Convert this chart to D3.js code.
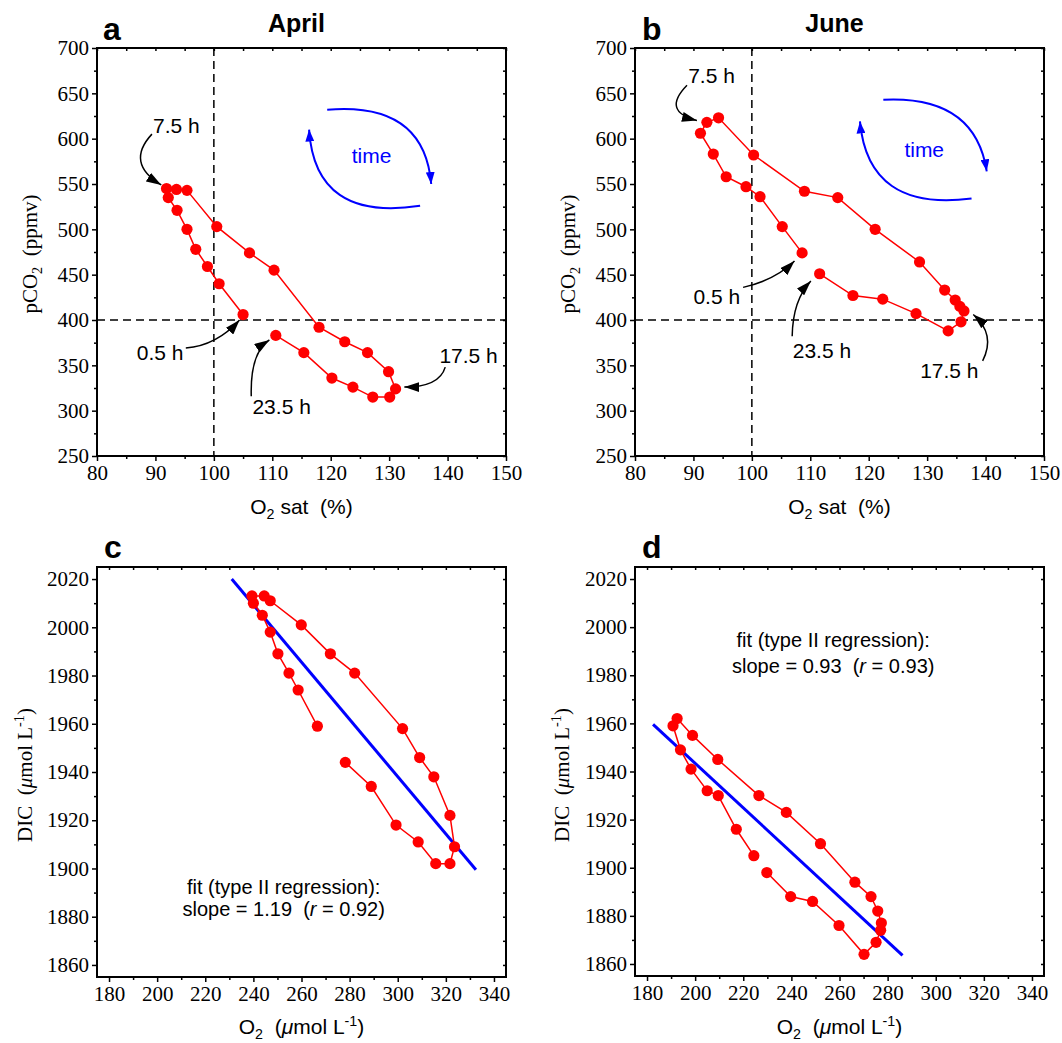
<!DOCTYPE html>
<html>
<head>
<meta charset="utf-8">
<script src="https://cdn.jsdelivr.net/npm/d3@7"></script>
<style>
  body { margin: 0; background: #fff; }
  text { white-space: pre; }
</style>
</head>
<body>
<div id="chart"></div>
<script>
// hourly samples, 0.5 h ... 23.5 h
const aprilO2sat = [105.0, 100.9, 98.9, 96.9, 95.4, 93.7, 92.2, 91.9, 93.6, 95.4, 100.5, 106.1,
                    110.3, 118.0, 122.4, 126.3, 129.9, 131.1, 130.1, 127.2, 123.8, 120.2, 115.4, 110.6];
const aprilPCO2  = [406, 440, 459, 478, 500, 521, 535, 545, 544, 543, 503, 474,
                    455, 392, 376, 364, 343, 324, 315, 315, 326, 336, 364, 383];

const juneO2sat = [108.6, 105.2, 101.4, 99.0, 95.6, 93.4, 91.2, 92.3, 94.3, 100.3, 109.0, 114.7,
                   121.1, 128.7, 133.0, 134.8, 135.6, 136.3, 135.8, 133.6, 128.1, 122.4, 117.3, 111.6];
const junePCO2  = [474, 503, 536, 547, 558, 583, 606, 618, 623, 582, 542, 535,
                   500, 464, 433, 422, 415, 410, 398, 388, 407, 423, 427, 451];

const aprilO2  = [266.6, 258.6, 254.8, 250.2, 247.0, 243.7, 240.0, 239.4, 244.5, 247.0, 259.9, 272.0,
                  282.1, 302.0, 309.1, 315.0, 321.7, 323.6, 321.7, 315.8, 308.5, 299.3, 289.0, 278.2];
const aprilDIC = [1959, 1974, 1981, 1989, 1998, 2005, 2010, 2013, 2013, 2011, 2001, 1989,
                  1981, 1958, 1946, 1938, 1922, 1909, 1902, 1902, 1911, 1918, 1934, 1944];

const juneO2  = [224.4, 217.1, 209.6, 205.0, 198.3, 193.9, 190.8, 192.5, 198.9, 209.4, 226.5, 237.9,
                 252.1, 266.4, 273.1, 275.9, 277.4, 277.1, 275.2, 270.2, 259.8, 248.8, 239.7, 229.8];
const juneDIC = [1905, 1916, 1930, 1932, 1941, 1949, 1959, 1962, 1955, 1945, 1930, 1923,
                 1910, 1894, 1888, 1882, 1877, 1874, 1869, 1864, 1876, 1886, 1888, 1898];

// type II regression lines (end points)
const aprilFitO2 = [231.0, 332.5], aprilFitDIC = [2020, 1899.5];
const juneFitO2 = [182.5, 286.2], juneFitDIC = [1959.6, 1863.6];

// tick labels
const satTicks = [80, 90, 100, 110, 120, 130, 140, 150];
const satMinor = [85, 95, 105, 115, 125, 135, 145];
const pco2Ticks = [250, 300, 350, 400, 450, 500, 550, 600, 650, 700];
const pco2Minor = [275, 325, 375, 425, 475, 525, 575, 625, 675];
const o2Ticks = [180, 200, 220, 240, 260, 280, 300, 320, 340];
const o2Minor = [190, 210, 230, 250, 270, 290, 310, 330];
const dicTicks = [1860, 1880, 1900, 1920, 1940, 1960, 1980, 2000, 2020];
const dicMinor = [1870, 1890, 1910, 1930, 1950, 1970, 1990, 2010];

const SANS = "'Liberation Sans', Arial, Helvetica, sans-serif";
const SERIF = "'Liberation Serif', 'Times New Roman', serif";

const svg = d3.select("#chart").append("svg")
    .attr("width", 1062)
    .attr("height", 1043)
    .style("font-family", SANS);

const defs = svg.append("defs");
function marker(id, color, w, h) {
    defs.append("marker")
        .attr("id", id)
        .attr("viewBox", `0 0 ${w} ${h}`)
        .attr("markerWidth", w)
        .attr("markerHeight", h)
        .attr("markerUnits", "userSpaceOnUse")
        .attr("refX", w)
        .attr("refY", h / 2)
        .attr("orient", "auto")
      .append("path")
        .attr("d", `M0,0L${w},${h / 2}L0,${h}Z`)
        .attr("fill", color);
}
marker("headK", "#000", 15, 10);
marker("headB", "#0000ff", 12, 9);

// text made of pieces: {t, sub, sup, it}
function richText(sel, parts) {
    let shift = 0;
    parts.forEach(p => {
        const ts = sel.append("tspan").text(p.t);
        let want = p.sub ? 5 : p.sup ? -8 : 0;
        if (want !== shift) ts.attr("dy", want - shift);
        shift = want;
        if (p.sub || p.sup) ts.attr("font-size", "0.68em");
        if (p.it) ts.attr("font-style", "italic");
    });
    return sel;
}

function drawPanel(p) {
    const [L, T, R, B] = p.box;
    const x = d3.scaleLinear().domain(p.xDom).range([L, R]);
    const y = d3.scaleLinear().domain(p.yDom).range([B, T]);
    const g = svg.append("g");

    const styleAxis = a => {
        a.attr("font-family", null).attr("font-size", null);
        a.select(".domain").remove();
        a.selectAll("line").attr("stroke-width", 1.5);
        a.selectAll("text")
            .style("font-family", SERIF)
            .style("font-size", "21px")
            .attr("fill", "#000");
    };

    g.append("g").attr("transform", `translate(0,${B})`)
        .call(d3.axisBottom(x).tickValues(p.xTicks).tickSize(5).tickPadding(4).tickFormat(d3.format("d")))
        .call(styleAxis);
    g.append("g").attr("transform", `translate(0,${B})`)
        .call(d3.axisBottom(x).tickValues(p.xMinor).tickSize(3).tickFormat(""))
        .call(styleAxis);
    g.append("g").attr("transform", `translate(${L},0)`)
        .call(d3.axisLeft(y).tickValues(p.yTicks).tickSize(5).tickPadding(3).tickFormat(d3.format("d")))
        .call(styleAxis);
    g.append("g").attr("transform", `translate(${L},0)`)
        .call(d3.axisLeft(y).tickValues(p.yMinor).tickSize(3).tickFormat(""))
        .call(styleAxis);
    // mirrored small ticks on top and right
    g.append("g").attr("transform", `translate(0,${T})`)
        .call(d3.axisTop(x).tickValues(p.xTicks.concat(p.xMinor)).tickSize(-3).tickFormat(""))
        .call(styleAxis);
    g.append("g").attr("transform", `translate(${R},0)`)
        .call(d3.axisRight(y).tickValues(p.yTicks.concat(p.yMinor)).tickSize(-3).tickFormat(""))
        .call(styleAxis);

    if (p.refX != null) {
        g.append("line")
            .attr("x1", x(p.refX)).attr("x2", x(p.refX))
            .attr("y1", T).attr("y2", B)
            .attr("stroke", "#000").attr("stroke-width", 1.5).attr("stroke-dasharray", "8,5");
        g.append("line")
            .attr("x1", L).attr("x2", R)
            .attr("y1", y(p.refY)).attr("y2", y(p.refY))
            .attr("stroke", "#000").attr("stroke-width", 1.5).attr("stroke-dasharray", "8,5");
    }

    if (p.fitX) {
        g.append("line")
            .attr("x1", x(p.fitX[0])).attr("y1", y(p.fitY[0]))
            .attr("x2", x(p.fitX[1])).attr("y2", y(p.fitY[1]))
            .attr("stroke", "#0000ff").attr("stroke-width", 3);
    }

    const idx = d3.range(p.xs.length);
    const line = d3.line().x(i => x(p.xs[i])).y(i => y(p.ys[i]));
    g.append("path")
        .attr("d", line(idx))
        .attr("fill", "none")
        .attr("stroke", "#ff0000")
        .attr("stroke-width", 1.5);
    g.selectAll("circle.pt").data(idx).enter()
        .append("circle")
        .attr("class", "pt")
        .attr("cx", i => x(p.xs[i]))
        .attr("cy", i => y(p.ys[i]))
        .attr("r", 5.6)
        .attr("fill", "#ff0000");

    // curved arrows with labels
    (p.notes || []).forEach(n => {
        const path = d3.path();
        path.moveTo(x(n.from[0]), y(n.from[1]));
        path.quadraticCurveTo(x(n.ctrl[0]), y(n.ctrl[1]), x(n.to[0]), y(n.to[1]));
        g.append("path")
            .attr("d", path.toString())
            .attr("fill", "none")
            .attr("stroke", n.color)
            .attr("stroke-width", n.color === "#000" ? 1.5 : 2)
            .attr("marker-end", n.color === "#000" ? "url(#headK)" : "url(#headB)");
        if (n.text) {
            g.append("text")
                .attr("x", x(n.at[0])).attr("y", y(n.at[1]))
                .attr("dy", "0.36em")
                .attr("text-anchor", "middle")
                .attr("font-size", 21)
                .attr("fill", n.color)
                .text(n.text);
        }
    });

    (p.fitText || []).forEach(ft => {
        richText(g.append("text")
            .attr("x", x(ft.at[0])).attr("y", y(ft.at[1]))
            .attr("text-anchor", "middle")
            .attr("font-size", 20)
            .attr("fill", "#000"), ft.parts);
    });

    g.append("rect")
        .attr("x", L).attr("y", T)
        .attr("width", R - L).attr("height", B - T)
        .attr("fill", "none")
        .attr("stroke", "#000")
        .attr("stroke-width", 2);

    // axis titles
    richText(g.append("text")
        .attr("x", (L + R) / 2).attr("y", p.xLabelY)
        .attr("text-anchor", "middle")
        .attr("font-size", 21)
        .style("font-family", SANS), p.xLabel);
    richText(g.append("text")
        .attr("transform", `translate(${p.yLabelX},${p.yLabelMid}) rotate(-90)`)
        .attr("text-anchor", "middle")
        .attr("font-size", 21)
        .style("font-family", SERIF), p.yLabel);

    g.append("text")
        .attr("x", p.letter[1]).attr("y", p.letter[2])
        .attr("font-size", 32).attr("font-weight", "bold")
        .text(p.letter[0]);
    if (p.title) {
        g.append("text")
            .attr("x", (L + R) / 2 - 5).attr("y", 32)
            .attr("text-anchor", "middle")
            .attr("font-size", 25).attr("font-weight", "bold")
            .text(p.title);
    }
}

const satLabel = [{t: "O"}, {t: "2", sub: true}, {t: " sat  (%)"}];
const pco2Label = [{t: "pCO"}, {t: "2", sub: true}, {t: "  (ppmv)"}];
const o2Label = [{t: "O"}, {t: "2", sub: true}, {t: "  ("}, {t: "\u03bc", it: true}, {t: "mol L"}, {t: "-1", sup: true}, {t: ")"}];
const dicLabel = [{t: "DIC  ("}, {t: "\u03bc", it: true}, {t: "mol L"}, {t: "-1", sup: true}, {t: ")"}];

const K = "#000", BL = "#0000ff";

drawPanel({
    box: [97, 48, 506, 456], xDom: [80, 150], yDom: [250, 700],
    xTicks: satTicks, xMinor: satMinor, yTicks: pco2Ticks, yMinor: pco2Minor,
    xs: aprilO2sat, ys: aprilPCO2, refX: 100, refY: 400,
    xLabel: satLabel, xLabelY: 514, yLabel: pco2Label, yLabelX: 37, yLabelMid: 254,
    letter: ["a", 103, 40], title: "April",
    notes: [
        {text: "7.5 h", at: [93.6, 615], from: [89.4, 605], ctrl: [84.8, 573], to: [91.0, 549], color: K},
        {text: "0.5 h", at: [90.8, 364], from: [95.2, 369], ctrl: [100.5, 372], to: [104.4, 400], color: K},
        {text: "23.5 h", at: [111.6, 305], from: [106.4, 316], ctrl: [106.2, 364], to: [109.5, 378], color: K},
        {text: "17.5 h", at: [143.6, 361], from: [139.6, 348], ctrl: [138.6, 326], to: [132.6, 326], color: K},
        {from: [119.4, 632], ctrl: [136.0, 641], to: [137.2, 550], color: BL},
        {text: "time", at: [127.0, 581], from: [135.3, 526], ctrl: [117.3, 508], to: [116.3, 610], color: BL}
    ]
});

drawPanel({
    box: [635, 48, 1044, 456], xDom: [80, 150], yDom: [250, 700],
    xTicks: satTicks, xMinor: satMinor, yTicks: pco2Ticks, yMinor: pco2Minor,
    xs: juneO2sat, ys: junePCO2, refX: 100, refY: 400,
    xLabel: satLabel, xLabelY: 514, yLabel: pco2Label, yLabelX: 575, yLabelMid: 254,
    letter: ["b", 642, 40], title: "June",
    notes: [
        {text: "7.5 h", at: [93.1, 670], from: [88.9, 659], ctrl: [84.5, 630], to: [90.6, 620], color: K},
        {text: "0.5 h", at: [94.0, 426], from: [98.5, 436], ctrl: [104.0, 444], to: [107.3, 465], color: K},
        {text: "23.5 h", at: [112.0, 366], from: [106.9, 382], ctrl: [107.0, 422], to: [110.1, 443], color: K},
        {text: "17.5 h", at: [133.8, 344], from: [139.5, 355], ctrl: [141.8, 384], to: [137.9, 406], color: K},
        {from: [122.5, 643], ctrl: [138.2, 648], to: [140.2, 564], color: BL},
        {text: "time", at: [129.5, 588], from: [137.6, 534], ctrl: [119.9, 519], to: [118.5, 619], color: BL}
    ]
});

drawPanel({
    box: [97, 567, 506, 977], xDom: [175, 345], yDom: [1855, 2025],
    xTicks: o2Ticks, xMinor: o2Minor, yTicks: dicTicks, yMinor: dicMinor,
    xs: aprilO2, ys: aprilDIC, fitX: aprilFitO2, fitY: aprilFitDIC,
    xLabel: o2Label, xLabelY: 1034, yLabel: dicLabel, yLabelX: 32, yLabelMid: 775,
    letter: ["c", 104, 558],
    fitText: [
        {at: [252.6, 1889.4], parts: [{t: "fit (type II regression):"}]},
        {at: [252.6, 1880.2], parts: [{t: "slope = 1.19  ("}, {t: "r", it: true}, {t: " = 0.92)"}]}
    ]
});

drawPanel({
    box: [635, 567, 1044, 976], xDom: [175, 345], yDom: [1855, 2025],
    xTicks: o2Ticks, xMinor: o2Minor, yTicks: dicTicks, yMinor: dicMinor,
    xs: juneO2, ys: juneDIC, fitX: juneFitO2, fitY: juneFitDIC,
    xLabel: o2Label, xLabelY: 1034, yLabel: dicLabel, yLabelX: 569, yLabelMid: 775,
    letter: ["d", 642, 558],
    fitText: [
        {at: [257.4, 1991.7], parts: [{t: "fit (type II regression):"}]},
        {at: [257.4, 1980.8], parts: [{t: "slope = 0.93  ("}, {t: "r", it: true}, {t: " = 0.93)"}]}
    ]
});
</script>
</body>
</html>
